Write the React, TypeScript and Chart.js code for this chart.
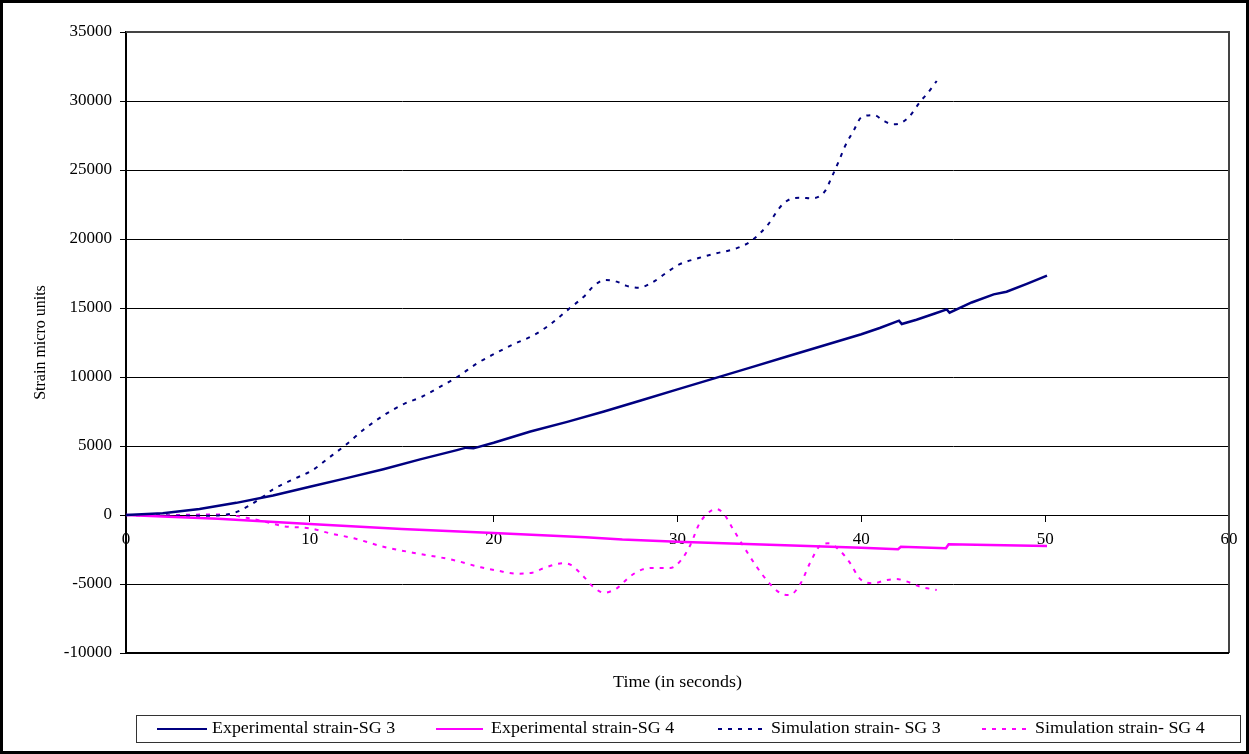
import React, { useEffect, useRef } from "react";
import { Chart, registerables } from "chart.js";

Chart.register(...registerables);

const NAVY = "#000080";
const MAGENTA = "#FF00FF";
const FONT = "'Liberation Serif', 'Times New Roman', serif";

const seriesNames = [
  "Experimental strain-SG 3",
  "Experimental strain-SG 4",
  "Simulation strain- SG 3",
  "Simulation strain- SG 4",
];
const xAxisTitle = "Time (in seconds)";
const yAxisTitle = "Strain micro units";

const xTickValues = [0, 10, 20, 30, 40, 50, 60];
const yTickValues = [-10000, -5000, 0, 5000, 10000, 15000, 20000, 25000, 30000, 35000];

const expSG3Time = [0, 2, 4, 6, 8, 10, 12, 14, 16, 18, 18.5, 18.9, 20, 22, 24, 26, 28, 30, 32, 34, 36, 38, 40, 41, 42.05, 42.2, 43, 44, 44.65, 44.8, 46, 47.2, 47.9, 49, 50.1];
const expSG3 = [0, 120, 430, 880, 1420, 2050, 2670, 3320, 4030, 4700, 4880, 4830, 5240, 6050, 6750, 7500, 8300, 9100, 9900, 10700, 11500, 12300, 13100, 13550, 14080, 13840, 14150, 14600, 14900, 14660, 15400, 15990, 16180, 16750, 17340];

const expSG4Time = [0, 5, 10, 15, 20, 25, 27, 30, 35, 40, 42, 42.15, 44.6, 44.75, 47, 50.1];
const expSG4 = [0, -280, -660, -1020, -1300, -1620, -1780, -1930, -2150, -2370, -2480, -2300, -2410, -2120, -2180, -2250];

const simSG3Time = [0, 2, 4, 5, 5.8, 6.6, 7.5, 8, 9.1, 10.1, 11, 12.1, 12.9, 14.1, 15.1, 16.1, 17.1, 18.1, 19.1, 20.1, 21.1, 22.2, 23.1, 24.1, 25, 25.4, 26.06, 26.7, 27.2, 27.9, 28.6, 29.6, 30.1, 31.2, 32.1, 33.2, 34, 34.9, 35.6, 36.1, 36.7, 37.3, 38, 38.4, 38.8, 39.1, 39.6, 40, 40.7, 41.2, 41.75, 42.1, 42.6, 43.2, 43.6, 44.1];
const simSG3 = [0, -40, -60, -30, 120, 600, 1380, 1860, 2590, 3210, 4110, 5240, 6160, 7290, 8040, 8570, 9300, 10070, 10990, 11720, 12390, 13040, 13840, 14940, 15940, 16540, 17030, 16910, 16620, 16470, 16830, 17750, 18160, 18640, 18960, 19320, 19850, 21010, 22340, 22870, 22990, 22950, 23430, 24510, 25720, 26690, 27900, 28820, 28980, 28570, 28310, 28380, 28860, 29950, 30560, 31450];

const simSG4Time = [0, 2, 3, 4, 5, 5.5, 6.7, 7.8, 8.5, 10, 11.1, 12.4, 14, 15.6, 17.8, 19.3, 20.2, 21.3, 22.1, 22.7, 23.8, 24.2, 24.9, 25.4, 26, 26.7, 27.4, 28.1, 28.7, 29.6, 30.2, 30.7, 31.2, 31.8, 32.1, 32.5, 33, 33.6, 34.3, 35, 35.6, 36.1, 36.7, 37.2, 37.8, 38.2, 38.8, 39.4, 39.9, 40.6, 41.4, 41.9, 42.5, 43.2, 44.1];
const simSG4 = [0, -20, 10, 30, 40, 20, -240, -560, -800, -970, -1330, -1690, -2300, -2730, -3260, -3790, -4030, -4250, -4180, -3860, -3500, -3620, -4470, -5190, -5630, -5310, -4470, -3940, -3840, -3840, -3260, -2170, -600, 290, 430, 120, -970, -2290, -3740, -4950, -5670, -5800, -4950, -3500, -2170, -2050, -2540, -3500, -4590, -4950, -4710, -4640, -4830, -5190, -5430];

const toPoints = (xs: number[], ys: number[]) => xs.map((x, i) => ({ x, y: ys[i] }));

const STRETCH = 1.12;

export default function App() {
  const ref = useRef<HTMLCanvasElement>(null);

  useEffect(() => {
    if (!ref.current) return;

    const decor = {
      id: "decor",
      beforeDraw(chart: any) {
        const ctx = chart.ctx;
        ctx.save();
        ctx.fillStyle = "#fff";
        ctx.fillRect(0, 0, chart.width, chart.height);
        ctx.restore();
      },
      afterDraw(chart: any) {
        const ctx = chart.ctx;
        const a = chart.chartArea;
        ctx.save();
        // plot area border
        ctx.strokeStyle = "#444";
        ctx.lineWidth = 2;
        ctx.beginPath();
        ctx.moveTo(a.left, a.top);
        ctx.lineTo(a.right, a.top);
        ctx.lineTo(a.right, a.bottom);
        ctx.stroke();
        ctx.strokeStyle = "#000";
        ctx.beginPath();
        ctx.moveTo(a.left, a.bottom);
        ctx.lineTo(a.right, a.bottom);
        ctx.stroke();

        // axis titles
        ctx.fillStyle = "#000";
        ctx.font = `16px ${FONT}`;
        ctx.textAlign = "center";
        ctx.textBaseline = "middle";
        ctx.save();
        ctx.translate(41, (a.top + a.bottom) / 2);
        ctx.rotate(-Math.PI / 2);
        ctx.fillText(yAxisTitle, 0, 0);
        ctx.restore();
        ctx.save();
        ctx.translate((a.left + a.right) / 2, 683);
        ctx.scale(STRETCH, 1);
        ctx.fillText(xAxisTitle, 0, 0);
        ctx.restore();

        // legend box
        ctx.strokeStyle = "#333";
        ctx.lineWidth = 1;
        ctx.strokeRect(136.5, 715.5, 1104, 27);
        const ly = 729;
        const items = [
          { x1: 157, x2: 207, tx: 212 },
          { x1: 436, x2: 483, tx: 491 },
          { x1: 718, x2: 764, tx: 771 },
          { x1: 982, x2: 1029, tx: 1035 },
        ];
        chart.data.datasets.forEach((ds: any, i: number) => {
          const it = items[i];
          ctx.save();
          ctx.strokeStyle = ds.borderColor;
          ctx.lineWidth = ds.borderDash && ds.borderDash.length ? 2 : 2;
          ctx.setLineDash(ds.borderDash || []);
          ctx.beginPath();
          ctx.moveTo(it.x1, ly);
          ctx.lineTo(it.x2, ly);
          ctx.stroke();
          ctx.restore();
          ctx.save();
          ctx.fillStyle = "#000";
          ctx.font = `16px ${FONT}`;
          ctx.textAlign = "left";
          ctx.textBaseline = "middle";
          ctx.translate(it.tx, ly);
          ctx.scale(STRETCH, 1);
          ctx.fillText(ds.label, 0, 0);
          ctx.restore();
        });

        // outer frame
        ctx.strokeStyle = "#000";
        ctx.lineWidth = 3;
        ctx.setLineDash([]);
        ctx.strokeRect(1.5, 1.5, chart.width - 3, chart.height - 3);
        ctx.restore();
      },
    };

    const chart = new Chart(ref.current, {
      type: "line",
      data: {
        datasets: [
          {
            label: seriesNames[0],
            data: toPoints(expSG3Time, expSG3),
            borderColor: NAVY,
            backgroundColor: NAVY,
            borderWidth: 2.5,
            pointRadius: 0,
            tension: 0,
            fill: false,
          },
          {
            label: seriesNames[1],
            data: toPoints(expSG4Time, expSG4),
            borderColor: MAGENTA,
            backgroundColor: MAGENTA,
            borderWidth: 2.5,
            pointRadius: 0,
            tension: 0,
            fill: false,
          },
          {
            label: seriesNames[2],
            data: toPoints(simSG3Time, simSG3),
            borderColor: NAVY,
            backgroundColor: NAVY,
            borderWidth: 2,
            borderDash: [4, 6],
            pointRadius: 0,
            cubicInterpolationMode: "monotone",
            fill: false,
          },
          {
            label: seriesNames[3],
            data: toPoints(simSG4Time, simSG4),
            borderColor: MAGENTA,
            backgroundColor: MAGENTA,
            borderWidth: 2,
            borderDash: [4, 6],
            pointRadius: 0,
            cubicInterpolationMode: "monotone",
            fill: false,
          },
        ],
      },
      options: {
        animation: false,
        responsive: false,
        maintainAspectRatio: false,
        layout: { padding: { left: 0, right: 20, top: 32, bottom: 101 } },
        plugins: {
          legend: { display: false },
          tooltip: { enabled: false },
          title: { display: false },
        },
        scales: {
          x: {
            type: "linear",
            position: { y: 0 } as any,
            min: 0,
            max: 60,
            afterBuildTicks: (scale: any) => {
              scale.ticks = xTickValues.map((v) => ({ value: v }));
            },
            ticks: {
              color: "#000",
              font: { family: FONT, size: 17 },
              padding: 8,
              maxRotation: 0,
              callback: (v: any) => String(v),
            },
            grid: {
              drawOnChartArea: false,
              drawTicks: true,
              tickLength: 6,
              tickColor: "#000",
              color: "#000",
            },
            border: { display: true, color: "#000", width: 1 },
          },
          y: {
            type: "linear",
            min: -10000,
            max: 35000,
            afterBuildTicks: (scale: any) => {
              scale.ticks = yTickValues.map((v) => ({ value: v }));
            },
            afterFit: (scale: any) => {
              scale.width = 126;
            },
            ticks: {
              color: "#000",
              font: { family: FONT, size: 17 },
              padding: 8,
              callback: (v: any) => String(v),
            },
            grid: {
              color: "#000",
              lineWidth: 1,
              drawTicks: true,
              tickLength: 6,
              tickColor: "#000",
            },
            border: { display: true, color: "#000", width: 2 },
          },
        },
      },
      plugins: [decor],
    } as any);

    return () => chart.destroy();
  }, []);

  return (
    <div style={{ position: "absolute", left: 0, top: 0, width: 1249, height: 754, background: "#fff" }}>
      <canvas ref={ref} width={1249} height={754} style={{ display: "block", width: 1249, height: 754 }} />
    </div>
  );
}
